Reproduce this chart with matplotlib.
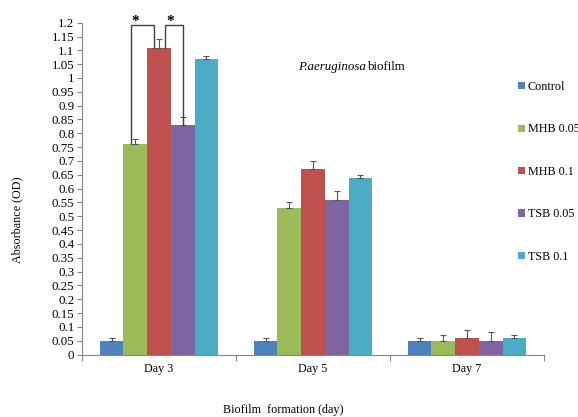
import matplotlib
matplotlib.use("Agg")
import matplotlib.pyplot as plt
import numpy as np
from matplotlib.ticker import FixedLocator, NullFormatter, FixedFormatter

plt.rcParams['font.family'] = ['Liberation Serif', 'DejaVu Serif']

categories = ["Day 3", "Day 5", "Day 7"]
series = ["Control", "MHB 0.05", "MHB 0.1", "TSB 0.05", "TSB 0.1"]
values = {
    "Control":  [0.05, 0.05, 0.05],
    "MHB 0.05": [0.76, 0.53, 0.05],
    "MHB 0.1":  [1.11, 0.67, 0.06],
    "TSB 0.05": [0.83, 0.56, 0.05],
    "TSB 0.1":  [1.07, 0.64, 0.06],
}
errors = {
    "Control":  [0.01, 0.01, 0.01],
    "MHB 0.05": [0.02, 0.02, 0.02],
    "MHB 0.1":  [0.03, 0.03, 0.03],
    "TSB 0.05": [0.03, 0.03, 0.03],
    "TSB 0.1":  [0.01, 0.01, 0.01],
}
colors = ["#4F81BD", "#9BBB59", "#C0504D", "#8064A2", "#4BACC6"]
yticks = [round(0.05 * i, 2) for i in range(25)]
ytick_labels = ["0"] + [("%g" % v) for v in yticks[1:]]

fig = plt.figure(figsize=(5.78, 4.17), dpi=100)
ax = fig.add_axes([82/578, 1 - 354.5/417, 462/578, (354.5 - 22.7)/417])

width = 0.154
centers = np.arange(len(categories)) + 0.5
for i, s in enumerate(series):
    x = centers + (i - 2) * width
    ax.bar(x, values[s], width=width, color=colors[i], label=s, zorder=2)
    ax.errorbar(x, values[s], yerr=[np.zeros(3), errors[s]], fmt='none',
                ecolor='#555555', elinewidth=0.8, capsize=2.2, capthick=0.8, zorder=3)

ax.set_xlim(0, 3)
ax.set_ylim(0, 1.2)
ax.yaxis.set_major_locator(FixedLocator(yticks))
ax.yaxis.set_major_formatter(FixedFormatter(ytick_labels))
ax.xaxis.set_major_locator(FixedLocator([0, 1, 2, 3]))
ax.xaxis.set_major_formatter(NullFormatter())
ax.xaxis.set_minor_locator(FixedLocator(list(centers)))
ax.xaxis.set_minor_formatter(FixedFormatter(categories))
ax.tick_params(axis='x', which='minor', length=0, pad=6, labelsize=8.7)
ax.tick_params(axis='x', which='major', length=4, color='#868686', direction='out')
ax.tick_params(axis='y', length=3.5, color='#868686', pad=2, labelsize=9.3)
for sp in ['top', 'right']:
    ax.spines[sp].set_visible(False)
for sp in ['left', 'bottom']:
    ax.spines[sp].set_color('#868686')
    ax.spines[sp].set_linewidth(0.8)

# significance brackets (Day 3)
d3 = 0
def bar_x(idx, off):
    return centers[d3] + (idx - 2) * width + off

top = 1.19
lc = '#404040'
xa, xb = bar_x(1, -0.028), bar_x(2, -0.035)
ax.plot([xa, xa, xb, xb], [values["MHB 0.05"][d3], top, top, values["MHB 0.1"][d3]],
        color=lc, lw=1.0, clip_on=False, zorder=4)
ax.text(bar_x(1, 0.0), 1.205, "*", ha='center', va='center', fontsize=11,
        fontweight='bold', clip_on=False)
xc, xd = bar_x(2, 0.04), bar_x(3, 0.0)
ax.plot([xc, xc, xd, xd], [values["MHB 0.1"][d3], top, top, values["TSB 0.05"][d3]],
        color=lc, lw=1.0, clip_on=False, zorder=4)
ax.text((xc + xd) / 2 - 0.025, 1.205, "*", ha='center', va='center', fontsize=11,
        fontweight='bold', clip_on=False)

# title: italic species + normal word
t1 = fig.text(298/578, 1 - 67/417, "P.aeruginosa", style='italic', fontsize=9.3,
              ha='left', va='center')
fig.canvas.draw()
bb = t1.get_window_extent()
fig.text((bb.x1 + 2) / fig.bbox.width, 1 - 67/417, "biofilm", fontsize=9.3,
         ha='left', va='center')

# axis labels
fig.text(17/578, 1 - 220/417, "Absorbance (OD)", rotation=90, fontsize=8.7,
         ha='center', va='center')
fig.text(283/578, 1 - 410/417, "Biofilm  formation (day)", fontsize=8.7,
         ha='center', va='center')

leg = fig.legend(loc='upper left', bbox_to_anchor=(518/578, 1 - 81/417),
                 frameon=False, fontsize=8.7, handlelength=0.55, handleheight=0.55,
                 handletextpad=0.25, labelspacing=2.52, borderpad=0, borderaxespad=0)

fig.savefig("out.png", dpi=100)
